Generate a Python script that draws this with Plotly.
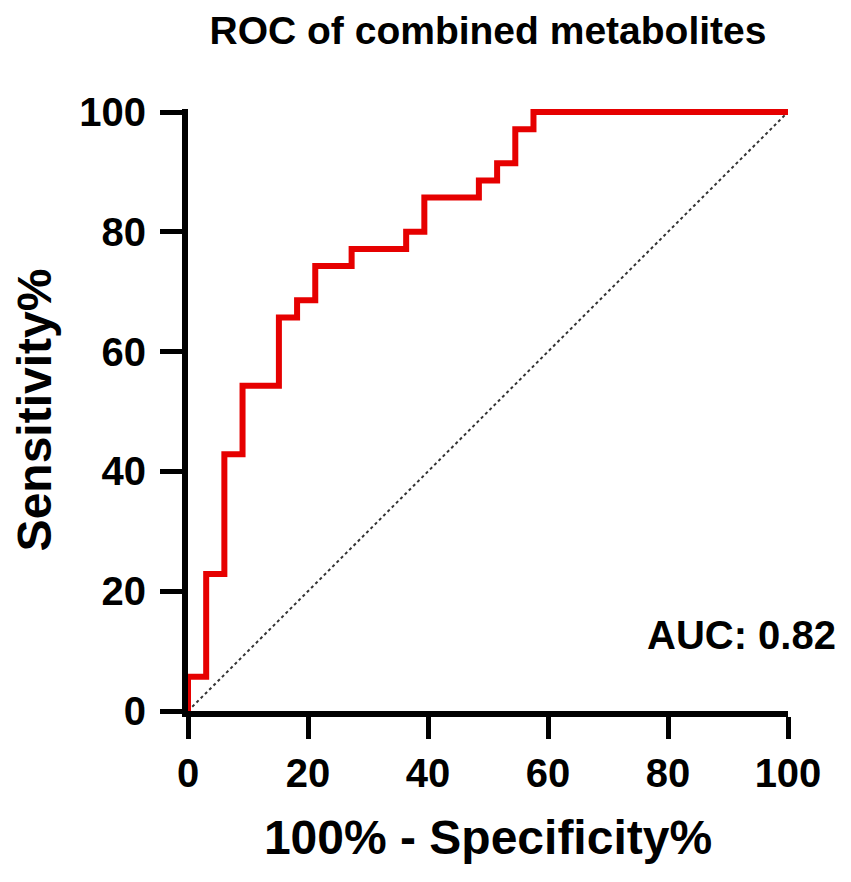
import plotly.graph_objects as go

# ROC steps (100% - specificity %, sensitivity %), drawn vertical-then-horizontal
fpr = [0, 3.03, 6.06, 9.09, 15.15, 18.18, 21.21, 27.27, 36.36, 39.39,
       48.48, 51.52, 54.55, 57.58, 100]
sens = [0, 5.71, 22.86, 42.86, 54.29, 65.71, 68.57, 74.29, 77.14, 80.0,
        85.71, 88.57, 91.43, 97.14, 100]
ref_x = [0, 100]
ref_y = [0, 100]
tick_vals = [0, 20, 40, 60, 80, 100]
auc_text = "AUC: 0.82"

FONT = "Liberation Sans, Arial, sans-serif"

fig = go.Figure()
fig.add_trace(go.Scatter(x=ref_x, y=ref_y, mode="lines",
                         line=dict(color="#333333", width=2, dash="3px,3px"),
                         hoverinfo="skip"))
fig.add_trace(go.Scatter(x=fpr, y=sens, mode="lines", line_shape="vh",
                         line=dict(color="#e60000", width=6),
                         cliponaxis=False))

axis_common = dict(
    showgrid=False, zeroline=False, showline=True, linecolor="black",
    linewidth=6, ticks="outside", ticklen=22, tickwidth=5, tickcolor="black",
    tickvals=tick_vals, layer="below traces",
    tickfont=dict(family=FONT, size=40, color="black", weight="bold"),
)

fig.update_layout(
    width=851, height=882,
    margin=dict(l=180, r=71, t=101, b=179),
    plot_bgcolor="white", paper_bgcolor="white",
    showlegend=False,
    title=dict(text="ROC of combined metabolites", x=0.5, xref="paper",
               xanchor="center", y=1 - 22 / 882, yanchor="middle",
               font=dict(family=FONT, size=39, color="black", weight="bold")),
    xaxis=dict(axis_common, range=[0, 100],
               title=dict(text="100% - Specificity%", standoff=28,
                          font=dict(family=FONT, size=48, color="black",
                                    weight="bold"))),
    yaxis=dict(axis_common, range=[0, 100.5], ticklabelstandoff=6,
               title=dict(text="Sensitivity%", standoff=22,
                          font=dict(family=FONT, size=48, color="black",
                                    weight="bold"))),
    annotations=[dict(text=auc_text, xref="paper", yref="paper",
                      x=(838 - 188) / 600, y=(711 - 635) / 602,
                      xanchor="right", yanchor="middle", showarrow=False,
                      font=dict(family=FONT, size=40, color="black",
                                weight="bold"))],
)

fig.write_html("out.html")
